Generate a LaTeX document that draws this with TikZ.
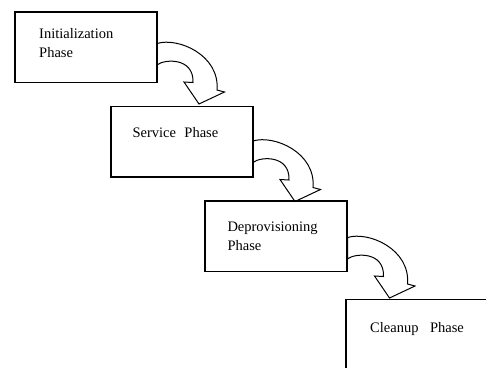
\documentclass[tikz,border=0pt]{standalone}
\usepackage{fontspec}
\setmainfont{Liberation Serif}
\usetikzlibrary{calc}
\begin{document}
\begin{tikzpicture}[x=1pt,y=-1pt,
  box/.style={draw=black, line width=1.2pt, inner sep=0pt, outer sep=0pt,
    minimum width=142pt, minimum height=70.5pt, anchor=north west},
  label/.style={anchor=base west, inner sep=0pt, font=\fontsize{14.5}{19}\selectfont},
  arrowline/.style={draw=black, fill=white, line width=1pt, line join=miter},
  bendarrow/.pic={
    \path[arrowline] (0,0) .. controls (21,-6.5) and (63,11.5) .. (60,46.5)
      -- (67.5,48.5) -- (42,60.5) -- (27,38.5) -- (36,39)
      .. controls (37,13.5) and (7,15.5) .. (0,21.5) -- cycle;
  }]
\useasboundingbox (0,0) rectangle (486,367);
\clip (0,0) rectangle (486,367);
\fill[white] (0,0) rectangle (486,367);
% boxes (positions)
\coordinate (p1) at (15,12);
\coordinate (p2) at (111,106.5);
\coordinate (p3) at (205,201);
\coordinate (p4) at (346,299.5);
% arrows
\path ($(p1)+(142,31.5)$) coordinate (a1) pic {bendarrow};
\path ($(p2)+(142,34.5)$) coordinate (a2) pic {bendarrow};
\path ($(p3)+(142.5,36.5)$) coordinate (a3) pic {bendarrow};
\node[box] (b1) at (p1) {};
\node[box] (b2) at (p2) {};
\node[box] (b3) at (p3) {};
\node[box, minimum width=160pt, minimum height=100pt] (b4) at (p4) {};
% labels
\node[label] (t1a) at (39,38.3) {Initialization};
\node[label] (t1b) at (39,57) {Phase};
\node[label] (t2) at (132.3,137.3) {Service\hspace{8.5pt}Phase};
\node[label] (t3a) at (227.3,231.7) {Deprovisioning};
\node[label] (t3b) at (227.3,250.7) {Phase};
\node[label] (t4) at (370,332) {Cleanup\hspace{11.5pt}Phase};
\end{tikzpicture}
\end{document}
